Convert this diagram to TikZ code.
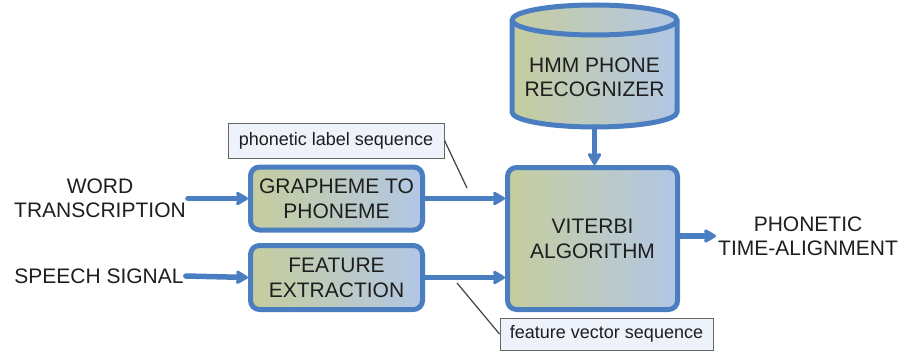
\documentclass[tikz,border=0pt]{standalone}
\usepackage{fontspec}
\setmainfont{Liberation Sans}
\usetikzlibrary{arrows.meta}
\definecolor{blockblue}{RGB}{74,126,193}
\definecolor{shadeL}{RGB}{198,205,158}
\definecolor{shadeR}{RGB}{178,199,229}
\definecolor{notefill}{RGB}{238,242,251}
\definecolor{inkgray}{RGB}{30,30,30}
\begin{document}
\begin{tikzpicture}
        [x=1pt,y=1pt,
        block/.style = {draw=blockblue,
        line width=5pt,
        rounded corners=9pt,
        left color=shadeL, right color=shadeR,
        align=center, text=inkgray,
        font=\fontsize{21}{25}\selectfont},
        plain/.style = {align=center, text=inkgray, inner sep=2pt,
        font=\fontsize{21}{24}\selectfont},
        note/.style = {draw=black!60, line width=1pt, fill=notefill,
        text=inkgray, font=\fontsize{18}{20}\selectfont},
        flow/.style = {blockblue, line width=5.5pt, line cap=round,
        -{Stealth[length=14pt,width=16pt,inset=2pt,round]}}]

        \useasboundingbox (0,0) rectangle (909,354);

        % Inputs
        \node[plain] (word) at (100,156) {WORD\\TRANSCRIPTION};
        \node[plain] (speech) at (99,78) {SPEECH SIGNAL};

        % Front-end blocks
        \node[block,minimum width=172pt,minimum height=63pt] (g2p) at (336.5,155.5) {GRAPHEME TO\\PHONEME};
        \node[block,minimum width=172pt,minimum height=64pt] (feat) at (336.5,76.5) {FEATURE\\EXTRACTION};

        % Viterbi
        \node[block,minimum width=170pt,minimum height=142pt] (vit) at (592.5,115.5) {VITERBI\\ALGORITHM};

        % HMM model (cylinder)
        \shade[draw=blockblue,line width=5pt,left color=shadeL,right color=shadeR]
            (512,334) -- (512,242) arc[start angle=180,end angle=360,x radius=82.5,y radius=15]
            -- (677,334) arc[start angle=0,end angle=180,x radius=82.5,y radius=15] -- cycle;
        \draw[blockblue,line width=5pt] (512,334) arc[start angle=180,end angle=360,x radius=82.5,y radius=15];
        \node[plain] (hmm) at (594.5,276.5) {HMM PHONE\\RECOGNIZER};
        \coordinate (hmmbase) at (594.5,227);

        % Output
        \node[plain,anchor=west] (out) at (716,118) {PHONETIC\\TIME-ALIGNMENT};

        % Flow arrows
        \draw[flow] (word.east |- g2p.west) -- (g2p.west);
        \draw[flow] (speech.east) -- (feat.west);
        \draw[flow] (g2p.east) -- (g2p.east -| vit.west);
        \draw[flow] (feat.east) -- (feat.east -| vit.west);
        \draw[flow] (hmmbase) -- (vit.north -| hmmbase);
        \draw[flow] (vit.east |- out.west) -- (out.west);

        % Callouts
        \node[note,minimum width=216pt,minimum height=35pt] (plabel) at (336,213.5) {phonetic label sequence};
        \node[note,minimum width=213pt,minimum height=32pt] (fvec) at (606.5,20) {feature vector sequence};
        \coordinate (ptip) at (467,166);
        \coordinate (ftip) at (457,71);
        \draw[line width=1.2pt,black!75] (plabel.east) -- (ptip);
        \draw[line width=1.2pt,black!75] (fvec.west) -- (ftip);
    \end{tikzpicture}
\end{document}
